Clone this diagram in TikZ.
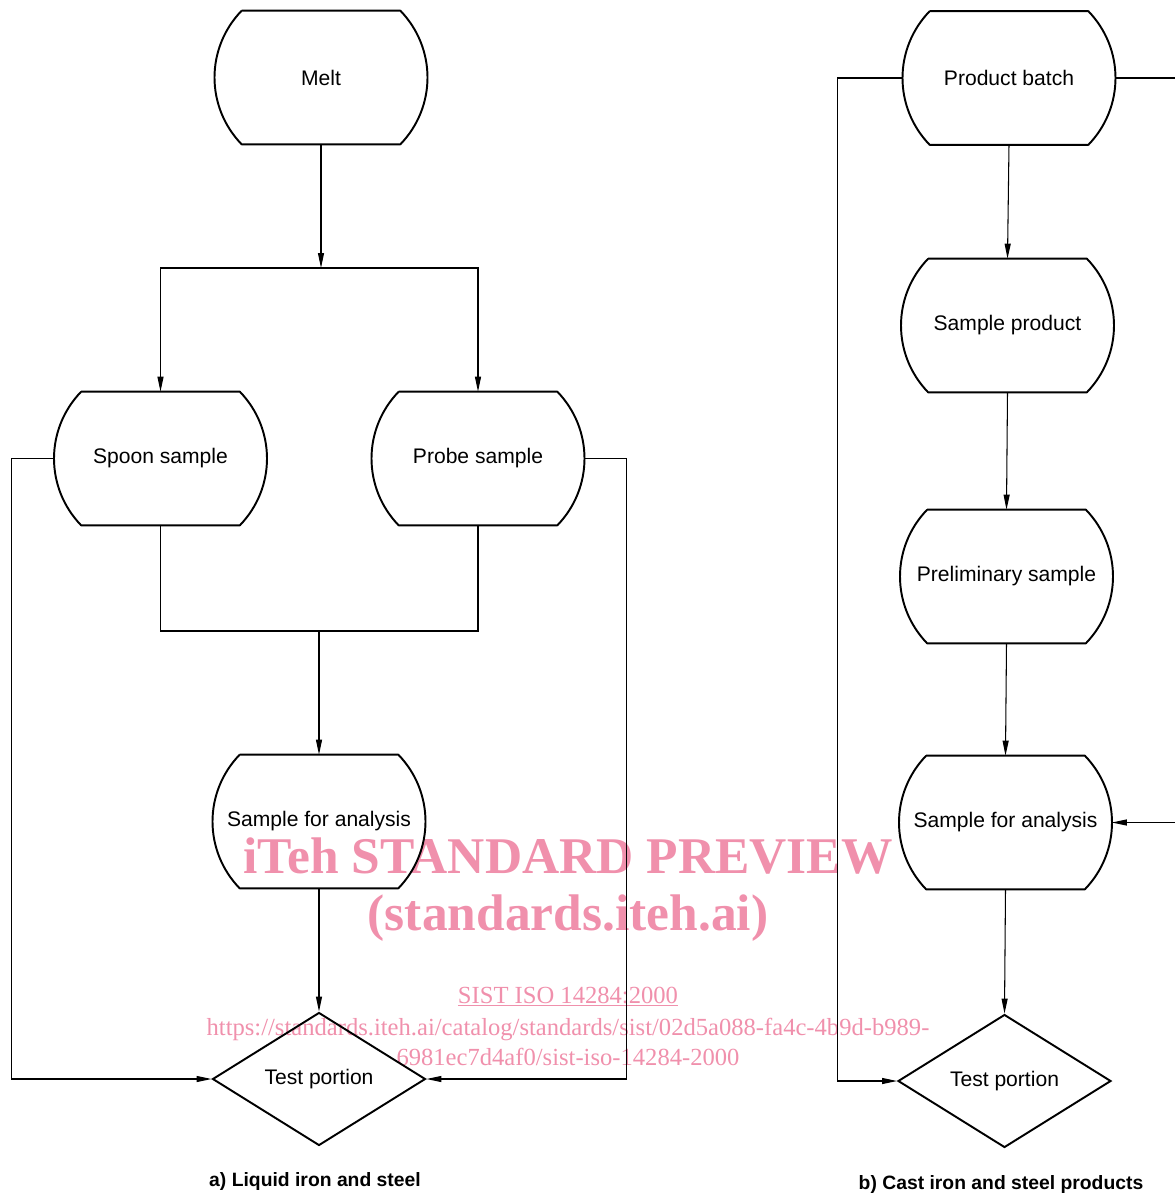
\documentclass[tikz,border=0pt]{standalone}
\usepackage{fontspec}
\setmainfont{Liberation Sans}
\newfontfamily\wmfont{Liberation Serif}
\usetikzlibrary{shapes.geometric,arrows.meta}
\definecolor{wmpink}{RGB}{240,144,172}
\tikzset{
  barrel/.style={rectangle,minimum width=4.24cm,minimum height=2.66cm,inner sep=0pt,font=\fontsize{12}{14}\selectfont},
  outline/.style={line width=1.1pt,line join=round},
  testbox/.style={diamond,draw,line width=1.1pt,minimum width=4.26cm,minimum height=2.66cm,inner sep=0pt,font=\fontsize{12}{14}\selectfont},
  flow/.style={line width=0.6pt},
  arr/.style={flow,-{Triangle[length=0.3cm,width=0.12cm]}},
  caption/.style={font=\bfseries\fontsize{11}{13}\selectfont},
  wmbig/.style={text=wmpink,font=\wmfont\bfseries\fontsize{29.3}{31}\selectfont,anchor=base},
  wmsmall/.style={text=wmpink,font=\wmfont\fontsize{14}{16}\selectfont,anchor=base}
}
\begin{document}
\begin{tikzpicture}[x=0.02cm,y=-0.02cm]
\useasboundingbox (0,0) rectangle (1174,1194);

% watermark
\node[wmbig] (wm1) at (568,873) {iTeh STANDARD PREVIEW};
\node[wmbig] (wm2) at (568,930) {(standards.iteh.ai)};
\node[wmsmall] (wm3) at (568,1003) {\underline{SIST ISO 14284:2000}};
\node[wmsmall] (wm4) at (568,1035) {https://standards.iteh.ai/catalog/standards/sist/02d5a088-fa4c-4b9d-b989-};
\node[wmsmall] (wm5) at (568,1065) {6981ec7d4af0/sist-iso-14284-2000};

% a) liquid iron and steel
\node[barrel] (melt) at (321,77.5) {Melt};
\node[barrel] (spoon) at (160.5,458.5) {Spoon sample};
\node[barrel] (probe) at (478,458.5) {Probe sample};
\node[barrel] (anaA) at (319,821.5) {Sample for analysis};
\node[testbox] (testA) at (319,1079) {Test portion};

\coordinate (split) at (321,268);
\coordinate (merge) at (319,631);

\draw[arr] (melt.south) -- (split);
\draw[arr] (split) -| (spoon.north);
\draw[arr] (split) -| (probe.north);
\draw[flow] (spoon.south) |- (merge);
\draw[flow] (probe.south) |- (merge);
\draw[arr] (merge) -- (anaA.north);
\draw[arr] (anaA.south) -- (testA.north);
\draw[arr] (spoon.west) -- ++(-43,0) |- (testA.west);
\draw[arr] (probe.east) -- ++(42,0) |- (testA.east);

% b) cast iron and steel products
\node[barrel] (batch) at (1009,78) {Product batch};
\node[barrel] (sprod) at (1007.5,325.5) {Sample product};
\node[barrel] (prelim) at (1006.5,576.5) {Preliminary sample};
\node[barrel] (anaB) at (1005.5,822.5) {Sample for analysis};
\node[testbox] (testB) at (1004.5,1081) {Test portion};

\draw[arr] (batch.south) -- (sprod.north);
\draw[arr] (sprod.south) -- (prelim.north);
\draw[arr] (prelim.south) -- (anaB.north);
\draw[arr] (anaB.south) -- (testB.north);
\draw[arr] (batch.west) -- ++(-65,0) |- (testB.west);
\draw[arr] (batch.east) -- ++(90,0) |- (anaB.east);

\foreach \n in {melt,spoon,probe,anaA,batch,sprod,prelim,anaB}
  \draw[outline] ([xshift=0.54cm]\n.north west) -- ([xshift=-0.54cm]\n.north east)
    to[bend left=44] ([xshift=-0.54cm]\n.south east) -- ([xshift=0.54cm]\n.south west)
    to[bend left=44] ([xshift=0.54cm]\n.north west);

\node[caption] (capA) at (315,1181) {a) Liquid iron and steel};
\node[caption] (capB) at (1001,1184) {b) Cast iron and steel products};
\end{tikzpicture}
\end{document}
